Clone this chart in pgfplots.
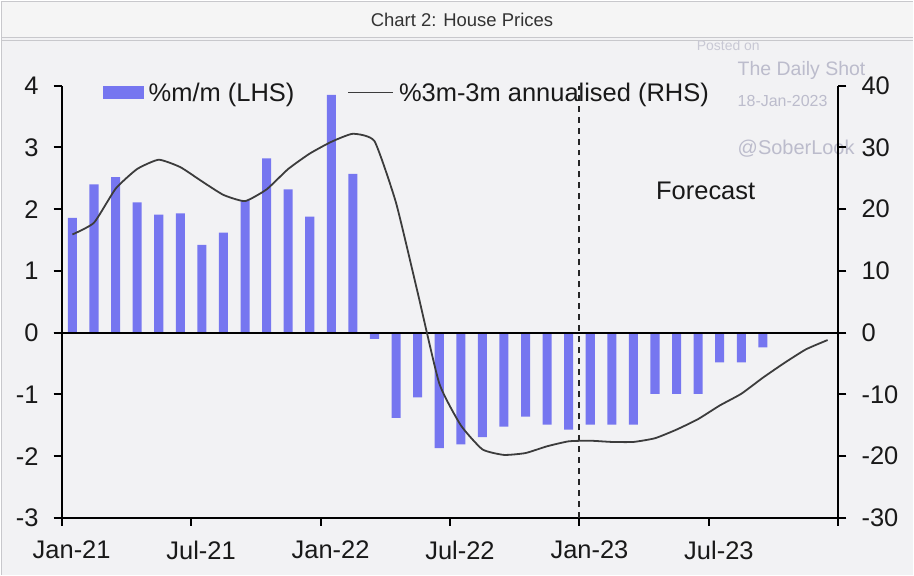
\documentclass[border=0pt]{standalone}
\usepackage{pgfplots}
\pgfplotsset{compat=1.18}
\usepackage{fontspec}
\setmainfont{Liberation Sans}
\definecolor{bg}{RGB}{242,242,244}
\definecolor{hdr}{RGB}{245,245,245}
\definecolor{bordr}{RGB}{200,200,204}
\definecolor{barblue}{RGB}{118,118,240}
\definecolor{linegray}{RGB}{60,60,60}
\definecolor{wm}{RGB}{188,188,204}
\definecolor{wmlight}{RGB}{200,200,212}

\pgfplotstableread{
x y
0.5 1.86
1.5 2.40
2.5 2.52
3.5 2.11
4.5 1.91
5.5 1.93
6.5 1.42
7.5 1.62
8.5 2.14
9.5 2.82
10.5 2.32
11.5 1.88
12.5 3.85
13.5 2.57
14.5 -0.10
15.5 -1.38
16.5 -1.05
17.5 -1.87
18.5 -1.81
19.5 -1.69
20.5 -1.52
21.5 -1.36
22.5 -1.49
23.5 -1.57
24.5 -1.49
25.5 -1.49
26.5 -1.49
27.5 -0.99
28.5 -0.99
29.5 -0.99
30.5 -0.48
31.5 -0.48
32.5 -0.24
}\mom

\pgfplotstableread{
x y
0.5 15.9
1.5 17.8
2.5 23.3
3.5 26.5
4.5 28.0
5.5 26.8
6.5 24.5
7.5 22.3
8.5 21.3
9.5 23.2
10.5 26.5
11.5 29.0
12.5 30.9
13.5 32.2
14.5 31.0
15.5 21.0
16.5 6.5
17.5 -8.2
18.5 -15.0
19.5 -18.9
20.5 -19.8
21.5 -19.5
22.5 -18.4
23.5 -17.6
24.5 -17.5
25.5 -17.7
26.5 -17.7
27.5 -17.1
28.5 -15.7
29.5 -14.0
30.5 -11.8
31.5 -9.9
32.5 -7.3
33.5 -4.9
34.5 -2.7
35.5 -1.2
}\ann

\begin{document}
\begin{tikzpicture}
\fill[bg] (0pt,0pt) rectangle (914pt,575pt);
\fill[hdr] (0pt,538pt) rectangle (914pt,575pt);
\draw[bordr, line width=1.5pt] (0pt,538pt) -- (914pt,538pt);
\draw[bordr, line width=1.5pt] (0pt,535pt) -- (914pt,535pt);
\draw[bordr, line width=1.5pt] (0.75pt,0pt) -- (0.75pt,575pt);
\draw[bordr, line width=1pt] (0pt,574.5pt) -- (914pt,574.5pt);
\node[font=\fontsize{18.5}{22}\selectfont, text=black!80] at (462pt,556pt) {Chart 2: House Prices};
\node[anchor=west, inner sep=0pt, text=wmlight, font=\fontsize{14}{16}\selectfont] at (697pt,530pt) {Posted on};
\node[anchor=west, inner sep=0pt, text=wm, font=\fontsize{19.5}{22}\selectfont] at (738pt,505pt) {The Daily Shot};
\node[anchor=west, inner sep=0pt, text=wm, font=\fontsize{16}{18}\selectfont] at (738pt,475pt) {18-Jan-2023};
\node[anchor=west, inner sep=0pt, text=wm, font=\fontsize{20}{22}\selectfont] at (738pt,427pt) {@SoberLook};

\begin{axis}[
  at={(61pt,57pt)}, anchor=south west, scale only axis,
  width=778pt, height=433pt,
  xmin=0, xmax=36, ymin=-3, ymax=4,
  axis x line*=bottom, axis y line*=left,
  axis line style={black, line width=2pt},
  xtick={0,6,12,18,24,30,36},
  xticklabels={Jan-21,Jul-21,Jan-22,Jul-22,Jan-23,Jul-23,},
  ytick={-3,-2,-1,0,1,2,3,4},
  yticklabels={-3,-2,-1,0,1,2,3,4},
  tick align=outside, major tick length=8pt,
  tick style={black, line width=2pt},
  minor tick num=0,
  tick label style={font=\fontsize{25.5}{30}\selectfont, text=black!90},
  yticklabel style={inner sep=0pt, xshift=-15pt},
  xticklabel style={inner sep=0pt, yshift=-15pt, xshift=10pt},
  clip=false,
  legend columns=2,
  legend cell align=left,
  legend style={at={(0.0527,0.984)}, anchor=west, draw=none, fill=none,
    inner sep=0pt, font=\fontsize{25.5}{30}\selectfont, text=black!90,
    nodes={inner sep=0pt},
    /tikz/every odd column/.append style={column sep=5pt},
    /tikz/every even column/.append style={column sep=53pt}},
]
\addplot[ybar, bar width=0.42, bar shift=0pt, fill=barblue, draw=none,
  legend image code/.code={\fill[barblue] (0pt,-6.5pt) rectangle (41pt,6.5pt);}]
  table[x=x, y=y] {\mom};
\addlegendentry{\%m/m (LHS)}
\addlegendimage{linegray, line width=1.8pt,
  legend image code/.code={\draw[linegray, line width=1.8pt] (0pt,0pt) -- (45pt,0pt);}}
\addlegendentry{\%3m-3m annualised (RHS)}
\draw[line width=2pt, black] ([xshift=-8pt]axis cs:0,0) -- ([xshift=8pt]axis cs:36,0);
\draw[line width=2pt, black!85, dash pattern=on 6pt off 5pt] (axis cs:24,-3) -- (axis cs:24,4);
\node[font=\fontsize{25.5}{30}\selectfont, text=black!90] at (axis cs:29.85,2.29) {Forecast};
\end{axis}

\begin{axis}[
  at={(61pt,57pt)}, anchor=south west, scale only axis,
  width=778pt, height=433pt,
  xmin=0, xmax=36, ymin=-30, ymax=40,
  axis x line=none, axis y line*=right,
  axis line style={black, line width=2pt},
  ytick={-30,-20,-10,0,10,20,30,40},
  yticklabels={-30,-20,-10,0,10,20,30,40},
  tick align=outside, major tick length=8pt,
  tick style={black, line width=2pt},
  tick label style={font=\fontsize{25.5}{30}\selectfont, text=black!90},
  yticklabel style={inner sep=0pt, xshift=15pt},
  clip=false,
]
\addplot[linegray, line width=1.8pt, smooth, tension=0.3, mark=none] table[x=x, y=y] {\ann};
\end{axis}
\end{tikzpicture}
\end{document}
